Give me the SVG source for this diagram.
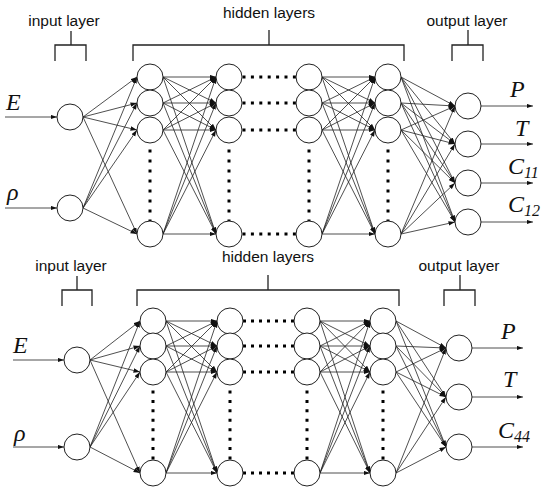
<svg xmlns="http://www.w3.org/2000/svg" width="550" height="491" viewBox="0 0 550 491">
<defs>
<marker id="ah" markerUnits="userSpaceOnUse" markerWidth="7" markerHeight="5" refX="6.5" refY="2.25" orient="auto">
<path d="M0,0 L6.5,2.25 L0,4.5 z" fill="#111"/>
</marker>
</defs>
<style>
.n{fill:#fff;stroke:#222;stroke-width:1}
.c line{stroke:#222;stroke-width:0.8;marker-end:url(#ah)}
.b{fill:none;stroke:#222;stroke-width:1.3}
.dv{stroke:#000;stroke-width:3;stroke-dasharray:3 7}
.lbl{font-family:"Liberation Sans",Arial,sans-serif;font-size:15.5px;fill:#111;text-anchor:middle}
.v{font-family:"Liberation Serif","Times New Roman",serif;font-style:italic;font-size:24px;fill:#111}
.s{font-size:16px}
</style>
<rect width="550" height="491" fill="#fff"/>

<!-- ===== TOP NETWORK ===== -->
<g id="top-brackets">
<path class="b" d="M71,31 V45 M55,61 V45 H86 V61"/>
<path class="b" d="M269,30 V45 M133,61 V45 H404 V61"/>
<path class="b" d="M468,30 V45 M452,61 V45 H483 V61"/>
<text class="lbl" x="64" y="26">input layer</text>
<text class="lbl" x="269" y="18">hidden layers</text>
<text class="lbl" x="467" y="26">output layer</text>
</g>

<g id="top-connectors" class="c">
<line x1="5" y1="117" x2="57" y2="117"/>
<line x1="5" y1="208" x2="57" y2="208"/>
<line x1="83" y1="117" x2="137" y2="77"/>
<line x1="83" y1="117" x2="137" y2="103"/>
<line x1="83" y1="117" x2="137" y2="130"/>
<line x1="83" y1="117" x2="137" y2="234"/>
<line x1="83" y1="208" x2="137" y2="77"/>
<line x1="83" y1="208" x2="137" y2="103"/>
<line x1="83" y1="208" x2="137" y2="130"/>
<line x1="83" y1="208" x2="137" y2="234"/>
<line x1="163" y1="77" x2="216" y2="77"/>
<line x1="163" y1="77" x2="216" y2="103"/>
<line x1="163" y1="77" x2="216" y2="130"/>
<line x1="163" y1="77" x2="216" y2="234"/>
<line x1="163" y1="103" x2="216" y2="77"/>
<line x1="163" y1="103" x2="216" y2="103"/>
<line x1="163" y1="103" x2="216" y2="130"/>
<line x1="163" y1="103" x2="216" y2="234"/>
<line x1="163" y1="130" x2="216" y2="77"/>
<line x1="163" y1="130" x2="216" y2="103"/>
<line x1="163" y1="130" x2="216" y2="130"/>
<line x1="163" y1="130" x2="216" y2="234"/>
<line x1="163" y1="234" x2="216" y2="77"/>
<line x1="163" y1="234" x2="216" y2="103"/>
<line x1="163" y1="234" x2="216" y2="130"/>
<line x1="163" y1="234" x2="216" y2="234"/>
<line x1="322" y1="77" x2="375" y2="77"/>
<line x1="322" y1="77" x2="375" y2="103"/>
<line x1="322" y1="77" x2="375" y2="130"/>
<line x1="322" y1="77" x2="375" y2="234"/>
<line x1="322" y1="103" x2="375" y2="77"/>
<line x1="322" y1="103" x2="375" y2="103"/>
<line x1="322" y1="103" x2="375" y2="130"/>
<line x1="322" y1="103" x2="375" y2="234"/>
<line x1="322" y1="130" x2="375" y2="77"/>
<line x1="322" y1="130" x2="375" y2="103"/>
<line x1="322" y1="130" x2="375" y2="130"/>
<line x1="322" y1="130" x2="375" y2="234"/>
<line x1="322" y1="234" x2="375" y2="77"/>
<line x1="322" y1="234" x2="375" y2="103"/>
<line x1="322" y1="234" x2="375" y2="130"/>
<line x1="322" y1="234" x2="375" y2="234"/>
<line x1="401" y1="77" x2="455" y2="106"/>
<line x1="401" y1="77" x2="455" y2="144"/>
<line x1="401" y1="77" x2="455" y2="183"/>
<line x1="401" y1="77" x2="455" y2="222"/>
<line x1="401" y1="103" x2="455" y2="106"/>
<line x1="401" y1="103" x2="455" y2="144"/>
<line x1="401" y1="103" x2="455" y2="183"/>
<line x1="401" y1="103" x2="455" y2="222"/>
<line x1="401" y1="130" x2="455" y2="106"/>
<line x1="401" y1="130" x2="455" y2="144"/>
<line x1="401" y1="130" x2="455" y2="183"/>
<line x1="401" y1="130" x2="455" y2="222"/>
<line x1="401" y1="234" x2="455" y2="106"/>
<line x1="401" y1="234" x2="455" y2="144"/>
<line x1="401" y1="234" x2="455" y2="183"/>
<line x1="401" y1="234" x2="455" y2="222"/>
<line x1="481" y1="106" x2="533" y2="106"/>
<line x1="481" y1="144" x2="533" y2="144"/>
<line x1="481" y1="183" x2="533" y2="183"/>
<line x1="481" y1="222" x2="533" y2="222"/>
</g>

<g id="top-dots">
<line class="dv" x1="150" y1="149.5" x2="150" y2="222.5"/>
<line class="dv" x1="229" y1="149.5" x2="229" y2="222.5"/>
<line class="dv" x1="309" y1="149.5" x2="309" y2="222.5"/>
<line class="dv" x1="388" y1="149.5" x2="388" y2="222.5"/>
<line class="dv" x1="242.5" y1="77" x2="296" y2="77" style="stroke-dasharray:3 5.4"/>
<line class="dv" x1="242.5" y1="103" x2="296" y2="103" style="stroke-dasharray:3 5.4"/>
<line class="dv" x1="242.5" y1="130" x2="296" y2="130" style="stroke-dasharray:3 5.4"/>
<line class="dv" x1="242.5" y1="234" x2="296" y2="234" style="stroke-dasharray:3 5.4"/>
</g>

<g id="t-in1"><circle class="n" cx="70" cy="117" r="13"/><text class="v" x="6" y="110">E</text></g>
<g id="t-in2"><circle class="n" cx="70" cy="208" r="13"/><text class="v" x="7" y="200">ρ</text></g>
<g id="t-h1a"><circle class="n" cx="150" cy="77" r="13"/></g>
<g id="t-h1b"><circle class="n" cx="150" cy="103" r="13"/></g>
<g id="t-h1c"><circle class="n" cx="150" cy="130" r="13"/></g>
<g id="t-h1d"><circle class="n" cx="150" cy="234" r="13"/></g>
<g id="t-h2a"><circle class="n" cx="229" cy="77" r="13"/></g>
<g id="t-h2b"><circle class="n" cx="229" cy="103" r="13"/></g>
<g id="t-h2c"><circle class="n" cx="229" cy="130" r="13"/></g>
<g id="t-h2d"><circle class="n" cx="229" cy="234" r="13"/></g>
<g id="t-h3a"><circle class="n" cx="309" cy="77" r="13"/></g>
<g id="t-h3b"><circle class="n" cx="309" cy="103" r="13"/></g>
<g id="t-h3c"><circle class="n" cx="309" cy="130" r="13"/></g>
<g id="t-h3d"><circle class="n" cx="309" cy="234" r="13"/></g>
<g id="t-h4a"><circle class="n" cx="388" cy="77" r="13"/></g>
<g id="t-h4b"><circle class="n" cx="388" cy="103" r="13"/></g>
<g id="t-h4c"><circle class="n" cx="388" cy="130" r="13"/></g>
<g id="t-h4d"><circle class="n" cx="388" cy="234" r="13"/></g>
<g id="t-out1"><circle class="n" cx="468" cy="106" r="13"/><text class="v" x="510" y="97">P</text></g>
<g id="t-out2"><circle class="n" cx="468" cy="144" r="13"/><text class="v" x="515" y="136">T</text></g>
<g id="t-out3"><circle class="n" cx="468" cy="183" r="13"/><text class="v" x="508" y="174">C<tspan class="s" dy="4">11</tspan></text></g>
<g id="t-out4"><circle class="n" cx="468" cy="222" r="13"/><text class="v" x="508" y="212">C<tspan class="s" dy="4">12</tspan></text></g>

<!-- ===== BOTTOM NETWORK ===== -->
<g id="bottom-brackets">
<path class="b" d="M77,276 V290 M62,306 V290 H92 V306"/>
<path class="b" d="M268,275 V290 M137,306 V290 H399 V306"/>
<path class="b" d="M460,275 V290 M444,306 V290 H475 V306"/>
<text class="lbl" x="71" y="271">input layer</text>
<text class="lbl" x="268" y="262">hidden layers</text>
<text class="lbl" x="459" y="271">output layer</text>
</g>

<g id="bottom-connectors" class="c">
<line x1="13" y1="360" x2="64" y2="360"/>
<line x1="13" y1="447" x2="64" y2="447"/>
<line x1="90" y1="360" x2="140" y2="321"/>
<line x1="90" y1="360" x2="140" y2="346"/>
<line x1="90" y1="360" x2="140" y2="372"/>
<line x1="90" y1="360" x2="140" y2="473"/>
<line x1="90" y1="447" x2="140" y2="321"/>
<line x1="90" y1="447" x2="140" y2="346"/>
<line x1="90" y1="447" x2="140" y2="372"/>
<line x1="90" y1="447" x2="140" y2="473"/>
<line x1="166" y1="321" x2="217" y2="321"/>
<line x1="166" y1="321" x2="217" y2="346"/>
<line x1="166" y1="321" x2="217" y2="372"/>
<line x1="166" y1="321" x2="217" y2="473"/>
<line x1="166" y1="346" x2="217" y2="321"/>
<line x1="166" y1="346" x2="217" y2="346"/>
<line x1="166" y1="346" x2="217" y2="372"/>
<line x1="166" y1="346" x2="217" y2="473"/>
<line x1="166" y1="372" x2="217" y2="321"/>
<line x1="166" y1="372" x2="217" y2="346"/>
<line x1="166" y1="372" x2="217" y2="372"/>
<line x1="166" y1="372" x2="217" y2="473"/>
<line x1="166" y1="473" x2="217" y2="321"/>
<line x1="166" y1="473" x2="217" y2="346"/>
<line x1="166" y1="473" x2="217" y2="372"/>
<line x1="166" y1="473" x2="217" y2="473"/>
<line x1="320" y1="321" x2="370" y2="321"/>
<line x1="320" y1="321" x2="370" y2="346"/>
<line x1="320" y1="321" x2="370" y2="372"/>
<line x1="320" y1="321" x2="370" y2="473"/>
<line x1="320" y1="346" x2="370" y2="321"/>
<line x1="320" y1="346" x2="370" y2="346"/>
<line x1="320" y1="346" x2="370" y2="372"/>
<line x1="320" y1="346" x2="370" y2="473"/>
<line x1="320" y1="372" x2="370" y2="321"/>
<line x1="320" y1="372" x2="370" y2="346"/>
<line x1="320" y1="372" x2="370" y2="372"/>
<line x1="320" y1="372" x2="370" y2="473"/>
<line x1="320" y1="473" x2="370" y2="321"/>
<line x1="320" y1="473" x2="370" y2="346"/>
<line x1="320" y1="473" x2="370" y2="372"/>
<line x1="320" y1="473" x2="370" y2="473"/>
<line x1="396" y1="321" x2="446" y2="348"/>
<line x1="396" y1="321" x2="446" y2="397"/>
<line x1="396" y1="321" x2="446" y2="447"/>
<line x1="396" y1="346" x2="446" y2="348"/>
<line x1="396" y1="346" x2="446" y2="397"/>
<line x1="396" y1="346" x2="446" y2="447"/>
<line x1="396" y1="372" x2="446" y2="348"/>
<line x1="396" y1="372" x2="446" y2="397"/>
<line x1="396" y1="372" x2="446" y2="447"/>
<line x1="396" y1="473" x2="446" y2="348"/>
<line x1="396" y1="473" x2="446" y2="397"/>
<line x1="396" y1="473" x2="446" y2="447"/>
<line x1="472" y1="348" x2="523" y2="348"/>
<line x1="472" y1="397" x2="523" y2="397"/>
<line x1="472" y1="447" x2="523" y2="447"/>
</g>

<g id="bottom-dots">
<line class="dv" x1="153" y1="390.5" x2="153" y2="459.5" style="stroke-dasharray:3 6.43"/>
<line class="dv" x1="230" y1="390.5" x2="230" y2="459.5" style="stroke-dasharray:3 6.43"/>
<line class="dv" x1="307" y1="390.5" x2="307" y2="459.5" style="stroke-dasharray:3 6.43"/>
<line class="dv" x1="383" y1="390.5" x2="383" y2="459.5" style="stroke-dasharray:3 6.43"/>
<line class="dv" x1="243" y1="321" x2="294" y2="321" style="stroke-dasharray:3 5"/>
<line class="dv" x1="243" y1="346" x2="294" y2="346" style="stroke-dasharray:3 5"/>
<line class="dv" x1="243" y1="372" x2="294" y2="372" style="stroke-dasharray:3 5"/>
<line class="dv" x1="243" y1="473" x2="294" y2="473" style="stroke-dasharray:3 5"/>
</g>

<g id="b-in1"><circle class="n" cx="77" cy="360" r="13"/><text class="v" x="13" y="353">E</text></g>
<g id="b-in2"><circle class="n" cx="77" cy="447" r="13"/><text class="v" x="14" y="441">ρ</text></g>
<g id="b-h1a"><circle class="n" cx="153" cy="321" r="13"/></g>
<g id="b-h1b"><circle class="n" cx="153" cy="346" r="13"/></g>
<g id="b-h1c"><circle class="n" cx="153" cy="372" r="13"/></g>
<g id="b-h1d"><circle class="n" cx="153" cy="473" r="13"/></g>
<g id="b-h2a"><circle class="n" cx="230" cy="321" r="13"/></g>
<g id="b-h2b"><circle class="n" cx="230" cy="346" r="13"/></g>
<g id="b-h2c"><circle class="n" cx="230" cy="372" r="13"/></g>
<g id="b-h2d"><circle class="n" cx="230" cy="473" r="13"/></g>
<g id="b-h3a"><circle class="n" cx="307" cy="321" r="13"/></g>
<g id="b-h3b"><circle class="n" cx="307" cy="346" r="13"/></g>
<g id="b-h3c"><circle class="n" cx="307" cy="372" r="13"/></g>
<g id="b-h3d"><circle class="n" cx="307" cy="473" r="13"/></g>
<g id="b-h4a"><circle class="n" cx="383" cy="321" r="13"/></g>
<g id="b-h4b"><circle class="n" cx="383" cy="346" r="13"/></g>
<g id="b-h4c"><circle class="n" cx="383" cy="372" r="13"/></g>
<g id="b-h4d"><circle class="n" cx="383" cy="473" r="13"/></g>
<g id="b-out1"><circle class="n" cx="459" cy="348" r="13"/><text class="v" x="501" y="339">P</text></g>
<g id="b-out2"><circle class="n" cx="459" cy="397" r="13"/><text class="v" x="503" y="387">T</text></g>
<g id="b-out3"><circle class="n" cx="459" cy="447" r="13"/><text class="v" x="498" y="438">C<tspan class="s" dy="4">44</tspan></text></g>
</svg>
